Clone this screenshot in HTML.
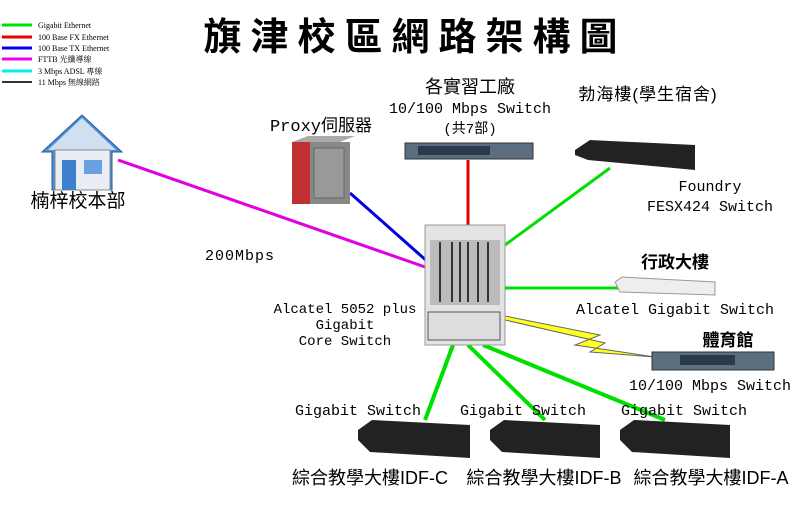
<!DOCTYPE html>
<html><head><meta charset="utf-8"><style>
body{margin:0;background:#fff;}
svg text{font-family:"Liberation Mono","Noto Sans CJK TC",monospace;fill:#000;}
.c{font-family:"Liberation Sans","Noto Sans CJK TC",sans-serif;}
</style></head><body>
<svg width="800" height="500" viewBox="0 0 800 500" xmlns="http://www.w3.org/2000/svg">
<g font-size="8">
<line x1="2" y1="25" x2="32" y2="25" stroke="#00e000" stroke-width="3"/><text x="38" y="28" fill="#444" style="font-family:'Liberation Serif','Noto Serif CJK SC',serif">Gigabit Ethernet</text>
<line x1="2" y1="37" x2="32" y2="37" stroke="#e00" stroke-width="3"/><text x="38" y="40" style="font-family:'Liberation Serif',serif">100 Base FX Ethernet</text>
<line x1="2" y1="48" x2="32" y2="48" stroke="#00e" stroke-width="3"/><text x="38" y="51" style="font-family:'Liberation Serif',serif">100 Base TX Ethernet</text>
<line x1="2" y1="59" x2="32" y2="59" stroke="#e0e" stroke-width="3"/><text x="38" y="62" style="font-family:'Liberation Serif','Noto Serif CJK SC',serif">FTTB 光纖導線</text>
<line x1="2" y1="71" x2="32" y2="71" stroke="#0ee" stroke-width="3"/><text x="38" y="74" style="font-family:'Liberation Serif','Noto Serif CJK SC',serif">3 Mbps ADSL 專線</text>
<line x1="2" y1="82" x2="32" y2="82" stroke="#333" stroke-width="2"/><text x="38" y="85" style="font-family:'Liberation Serif','Noto Serif CJK SC',serif">11 Mbps 無線網路</text>
</g>
<text x="415" y="50" font-size="38" text-anchor="middle" class="c" font-weight="bold" letter-spacing="9">旗津校區網路架構圖</text>
<line x1="118" y1="160" x2="428" y2="268" stroke="#e000e0" stroke-width="3"/>
<line x1="350" y1="193" x2="428" y2="262" stroke="#0000e0" stroke-width="3"/>
<line x1="468" y1="160" x2="468" y2="225" stroke="#e00000" stroke-width="3"/>
<line x1="505" y1="245" x2="610" y2="168" stroke="#00e000" stroke-width="3"/>
<line x1="505" y1="288" x2="620" y2="288" stroke="#00e000" stroke-width="3"/>
<polygon points="505,316 600,335 575,345 655,357 590,352 605,343 505,320" fill="#ffff20" stroke="#666" stroke-width="1"/>
<line x1="453" y1="345" x2="425" y2="420" stroke="#00e000" stroke-width="4"/>
<line x1="468" y1="345" x2="545" y2="420" stroke="#00e000" stroke-width="4"/>
<line x1="483" y1="345" x2="665" y2="420" stroke="#00e000" stroke-width="4"/>
<polygon points="82,115 42,152 52,152 52,190 112,190 112,152 122,152" fill="#4a8fd8" stroke="#2a5a9a"/>
<polygon points="82,118 48,150 116,150" fill="#d0e0f0"/>
<rect x="55" y="150" width="55" height="40" fill="#e8eef4" stroke="#888"/>
<rect x="62" y="160" width="14" height="30" fill="#3f7fd0"/>
<rect x="84" y="160" width="18" height="14" fill="#6aa0e0"/>
<text x="78" y="207" font-size="19" text-anchor="middle" class="c">楠梓校本部</text>
<text x="321" y="131" font-size="17" text-anchor="middle">Proxy伺服器</text>
<polygon points="292,142 308,136 355,136 340,142" fill="#aaa"/>
<rect x="292" y="142" width="18" height="62" fill="#c03030"/>
<rect x="310" y="142" width="40" height="62" fill="#888"/>
<rect x="314" y="148" width="30" height="50" fill="#999" stroke="#666"/>
<rect x="425" y="225" width="80" height="120" fill="#e4e4e4" stroke="#999"/>
<rect x="430" y="240" width="70" height="65" fill="#bbb"/>
<g stroke="#333" stroke-width="2"><line x1="440" y1="242" x2="440" y2="302"/><line x1="452" y1="242" x2="452" y2="302"/><line x1="460" y1="242" x2="460" y2="302"/><line x1="468" y1="242" x2="468" y2="302"/><line x1="478" y1="242" x2="478" y2="302"/><line x1="488" y1="242" x2="488" y2="302"/></g>
<rect x="428" y="312" width="72" height="28" fill="#ddd" stroke="#555"/>
<text x="345" y="313" font-size="14" text-anchor="middle">Alcatel 5052 plus</text>
<text x="345" y="329" font-size="14" text-anchor="middle">Gigabit</text>
<text x="345" y="345" font-size="14" text-anchor="middle">Core Switch</text>
<text x="240" y="260" font-size="15" text-anchor="middle" letter-spacing="1">200Mbps</text>
<text x="470" y="93" font-size="18" text-anchor="middle" class="c">各實習工廠</text>
<text x="470" y="113" font-size="15" text-anchor="middle">10/100 Mbps Switch</text>
<text x="470" y="133" font-size="14" text-anchor="middle">(共7部)</text>
<rect x="405" y="143" width="128" height="16" fill="#5a6e80" stroke="#333"/>
<rect x="418" y="146" width="72" height="9" fill="#2a3a4a"/>
<text x="648" y="100" font-size="17" text-anchor="middle" class="c" letter-spacing="1">勃海樓(學生宿舍)</text>
<polygon points="575,150 590,140 695,145 695,170 588,160 575,155" fill="#222"/>
<text x="710" y="191" font-size="15" text-anchor="middle">Foundry</text>
<text x="710" y="211" font-size="15" text-anchor="middle">FESX424 Switch</text>
<text x="675" y="268" font-size="17" text-anchor="middle" class="c" font-weight="bold">行政大樓</text>
<polygon points="615,282 622,277 715,282 715,295 620,292" fill="#eee" stroke="#999"/>
<text x="675" y="314" font-size="15" text-anchor="middle">Alcatel Gigabit Switch</text>
<text x="728" y="346" font-size="17" text-anchor="middle" class="c" font-weight="bold">體育館</text>
<rect x="652" y="352" width="122" height="18" fill="#5a7080" stroke="#333"/>
<rect x="680" y="355" width="55" height="10" fill="#2a3a4a"/>
<text x="710" y="390" font-size="15" text-anchor="middle">10/100 Mbps Switch</text>
<g font-size="15" text-anchor="middle">
<text x="358" y="415">Gigabit Switch</text>
<text x="523" y="415">Gigabit Switch</text>
<text x="684" y="415">Gigabit Switch</text>
</g>
<g font-size="18" text-anchor="middle" class="c">
<text x="370" y="484" class="c">綜合教學大樓IDF-C</text>
<text x="544" y="484" class="c">綜合教學大樓IDF-B</text>
<text x="711" y="484" class="c">綜合教學大樓IDF-A</text>
</g>
<polygon points="358,430 372,420 470,425 470,458 370,452 358,440" fill="#222"/>
<polygon points="490,430 504,420 600,425 600,458 502,452 490,440" fill="#222"/>
<polygon points="620,430 634,420 730,425 730,458 632,452 620,440" fill="#222"/>
</svg>
</body></html>
